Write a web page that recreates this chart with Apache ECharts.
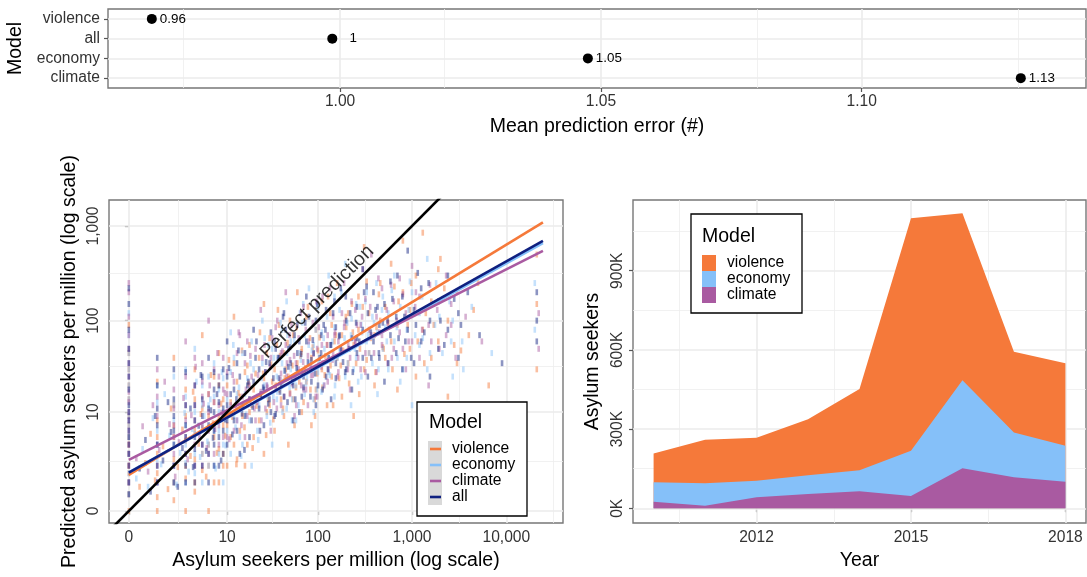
<!DOCTYPE html>
<html>
<head>
<meta charset="utf-8">
<script src="https://cdn.jsdelivr.net/npm/echarts@6/dist/echarts.min.js"></script>
<style>
  html, body { margin: 0; padding: 0; background: #fff; }
  #chart { width: 1087px; height: 577px; }
</style>
</head>
<body>
<div id="chart"></div>
<script>
// ---- Mean prediction error by model ----
const models = ['violence', 'all', 'economy', 'climate'];
const meanError = [0.9639, 0.9985, 1.0475, 1.1305];
const errorTicks = [1.00, 1.05, 1.10];

// ---- Observed vs predicted asylum seekers per million ([observed, predicted]) ----
const scatterTicks = [0, 10, 100, 1000, 10000];

const ptsViolence = [
  [0,0],[0,1],[0,2],[0,4],[0,7],[0,14],[0,30],[0,90],
  [1,0],[1,3],[1,8],[1,22],[2,1],[2,5],[2,12],[2,40],[3,0],[3,2],[3,9],[3,18],
  [4,1],[4,6],[4,30],[5,3],[5,11],[5,70],[6,0],[6,2],[6,16],[7,5],[7,25],
  [8,1],[8,9],[8,45],[9,3],[9,14],[10,2],[10,7],[10,20],[12,4],[12,35],[12,110],
  [14,6],[14,15],[16,2],[16,28],[18,10],[18,55],[20,5],[20,18],[23,8],[23,40],
  [26,3],[26,24],[26,150],[30,12],[30,65],[34,6],[34,30],[38,18],[38,90],
  [43,9],[43,45],[48,25],[48,4],[54,14],[54,70],[60,35],[60,200],[67,10],[67,50],
  [75,22],[75,110],[85,40],[85,7],[95,18],[95,80],[110,30],[110,160],[125,12],[125,55],
  [140,90],[140,25],[160,40],[160,250],[180,15],[180,70],[210,120],[210,35],
  [240,55],[240,9],[270,180],[270,80],[310,30],[310,600],[350,120],[350,45],
  [400,70],[400,20],[460,250],[460,100],[520,40],[520,140],[600,400],[600,60],
  [700,90],[700,18],[800,200],[800,700],[950,50],[950,130],[1100,300],[1100,25],
  [1300,80],[1300,850],[1600,160],[1600,40],[1900,60],[1900,350],[2400,100],[2400,15],
  [3000,200],[3000,35],[4000,70],[5000,250],[6500,20],[21000,150],[21000,500],[21000,30],
  [0,0.5],[0,1.5],[0,3],[0,5],[0,9],[0,20],[0,45],
  [1,0.4],[1,1.5],[1,5],[2,0.3],[2,2.5],[2,7],[3,1.2],[3,4.5],[4,0.6],[4,2.5],[4,14],[5,1.7],[5,6.5],
  [6,4],[6,9],[7,1],[7,13],[8,3.5],[8,20],[9,2],[9,7],[11,5],[11,13],[13,2.5],[13,22],[15,9],[17,4],[17,33],
  [19,12],[21,27],[24,15],[28,10],[28,45],[32,22],[36,55],[40,14],[45,30],[50,100],[58,19],[65,42],[72,28],[82,65],
  [92,14],[100,48],[118,26],[135,120],[150,60],[175,33],[200,85],[230,150],[280,50],[330,260],[420,85],[500,50],
  [650,230],[900,90],[1400,120],[2000,450],[2800,55],[4500,130],
  [0.3,0.8],[0.5,2.2],[0.7,5.5],[0.9,1.1],[1.3,3.8],[1.6,0.7],[1.8,11],[2.3,1.9],[2.7,6.2],[3.5,2.8],[3.8,17],
  [4.5,4.1],[4.8,9.5],[5.6,1.3],[6.4,26],[6.8,7.4],[7.6,3.1],[8.5,12.5],[9.5,5.2],[10.5,38],[11.5,8.8],[12.8,2.1],
  [13.5,16.5],[14.8,48],[15.8,6.6],[17.5,21],[19.5,3.6],[21.5,11.8],[23.5,75],[25.5,27],[27.5,5.3],[29,14],[31,34],
  [33,8.2],[35,20],[37,130],[39,42],[42,11],[44,24],[47,58],[50,16.5],[53,33],[56,7],[59,85],[63,22],[66,46],[70,13],
  [73,31],[78,140],[83,18],[88,52],[93,9],[98,27],[104,66],[112,19],[120,42],[128,180],[136,33],[145,12],[155,70],
  [168,24],[185,48],[198,110],[215,21],[235,75],[255,35],[275,16],[300,140],[330,38],[365,65],[410,28],[445,190],
  [490,52],[560,95],[620,30],[720,160],[830,44],[980,250],[1150,60],[1350,35],[1700,90],[2200,220],[3300,48]
];
const ptsEconomy = [
  [0,1],[0,3],[0,5],[0,9],[0,20],[0,45],[0,120],
  [1,1],[1,6],[1,13],[2,2],[2,8],[2,25],[3,1],[3,4],[3,15],[4,3],[4,10],[4,50],
  [5,1],[5,7],[5,20],[6,4],[6,12],[7,2],[7,35],[8,6],[8,18],[9,1],[9,10],
  [11,3],[11,28],[11,75],[13,8],[13,16],[15,4],[15,45],[17,12],[17,24],[19,2],[19,60],
  [22,15],[22,6],[25,35],[25,100],[28,9],[28,20],[32,50],[32,4],[36,25],[36,14],
  [41,80],[41,35],[46,11],[46,160],[51,30],[51,60],[58,20],[58,8],[64,45],[64,120],
  [72,16],[72,70],[80,35],[80,220],[90,10],[90,55],[100,28],[100,140],[115,65],[115,20],
  [130,300],[130,40],[150,15],[150,85],[170,50],[170,130],[195,25],[195,400],
  [225,70],[225,12],[255,150],[255,40],[290,90],[290,25],[330,200],[330,60],
  [380,35],[380,110],[430,16],[430,75],[490,180],[490,50],[560,120],[560,30],
  [650,60],[650,300],[750,22],[750,140],[880,80],[880,40],[1000,200],[1000,12],
  [1200,55],[1200,120],[1450,30],[1450,450],[1750,90],[2100,45],[2100,170],
  [2700,25],[2700,100],[3400,60],[4300,140],[7000,45],[20000,80],[20000,250],
  [0,0.5],[0,1.5],[0,7],[0,14],[0,30],[0,70],
  [1,2.5],[1,4],[1,20],[2,1],[2,4],[2,12],[3,2.2],[3,7],[3,30],[4,1.5],[4,5.5],[5,3],[5,12],[6,2],[6,25],
  [7,6],[7,15],[8,3],[8,10],[9,4],[9,24],[10,6],[10,14],[12,9],[12,40],[14,5],[16,16],[18,8],[20,30],[23,12],
  [26,20],[29,55],[33,15],[37,38],[42,22],[47,70],[53,14],[60,30],[68,95],[76,24],[86,48],[97,18],[110,75],
  [130,28],[150,180],[175,45],[205,95],[240,30],[280,140],[340,70],[420,250],[520,85],[700,40],[950,260],
  [1300,65],[1800,250],[2500,160],[3500,30],
  [0.2,1.2],[0.4,3.5],[0.6,0.8],[0.8,8.5],[1.2,2.1],[1.4,16],[1.7,5.2],[2.2,0.9],[2.5,3.1],[2.9,9.8],[3.3,1.6],
  [3.7,6.3],[4.2,22],[4.7,2.7],[5.3,9],[5.8,4.4],[6.3,14],[7.3,1.8],[7.8,7.7],[8.7,28],[9.6,3.9],[10.8,11],
  [11.8,55],[12.5,6.6],[13.7,19],[14.5,2.8],[16.5,9.4],[18.5,35],[20.5,13],[22.5,4.6],[24.5,24],[26.5,65],
  [28.5,15],[30.5,7.5],[33.5,40],[36.5,17],[39.5,95],[41.5,10],[43.5,29],[46.5,45],[49.5,19],[52.5,8],[55.5,62],
  [58.5,26],[61.5,12],[65.5,38],[69.5,150],[74.5,21],[79.5,55],[84.5,30],[89.5,14],[94.5,80],[102,36],[109,17],
  [117,50],[125,110],[134,26],[143,60],[152,20],[162,40],[178,200],[192,65],[208,35],[228,105],[248,50],[268,22],
  [295,75],[320,160],[350,45],[395,95],[440,30],[480,130],[540,60],[610,210],[690,85],[800,30],[920,130],
  [1080,70],[1280,180],[1550,45],[1950,110],[2600,60]
];
const ptsClimate = [
  [0,2],[0,4],[0,6],[0,10],[0,17],[0,35],[0,70],[0,200],
  [1,2],[1,9],[1,30],[2,3],[2,7],[2,18],[3,5],[3,12],[3,60],[4,2],[4,8],[4,20],
  [5,4],[5,15],[5,35],[6,6],[6,10],[6,100],[7,3],[7,13],[8,7],[8,25],[9,5],[9,40],
  [10,9],[10,16],[12,6],[12,22],[14,11],[14,70],[16,5],[16,35],[18,14],[18,20],
  [21,8],[21,50],[24,17],[24,130],[27,11],[27,28],[31,40],[31,6],[35,19],[35,85],
  [40,27],[40,12],[45,55],[45,200],[50,16],[50,38],[56,24],[56,9],[62,65],[62,30],
  [70,18],[70,140],[78,42],[78,12],[88,26],[88,95],[98,50],[98,15],[112,35],[112,180],
  [127,70],[127,22],[145,45],[145,110],[165,28],[165,60],[190,85],[190,250],
  [220,40],[220,18],[250,130],[250,60],[285,30],[285,90],[320,170],[320,45],
  [370,70],[370,500],[420,110],[420,28],[480,55],[480,220],[550,35],[550,95],
  [640,160],[640,50],[740,280],[740,75],[860,30],[860,120],[1000,60],[1000,380],
  [1200,180],[1200,40],[1500,90],[1500,20],[1850,130],[2300,70],[2300,300],
  [2900,40],[3700,110],[5500,60],[22000,120],[22000,50],
  [0,1],[0,3],[0,8],[0,13],[0,25],[0,50],[0,110],[0,250],
  [1,1],[1,4],[1,15],[2,2],[2,5],[2,11],[3,3],[3,8],[3,25],[4,4],[4,12],[4,40],[5,2],[5,7],[5,22],[6,3],[6,16],
  [7,7],[7,30],[8,4],[8,12],[9,9],[9,18],[10,5],[10,28],[11,12],[13,8],[13,45],[15,15],[17,9],[17,60],[19,25],
  [22,13],[25,40],[28,20],[32,65],[36,11],[40,45],[46,25],[52,90],[58,35],[66,20],[74,80],[84,33],[96,160],
  [110,55],[128,30],[150,70],[180,120],[210,55],[260,90],[300,350],[360,140],[450,75],[600,240],[800,50],
  [1100,200],[1600,60],[2600,150],
  [0.2,2.6],[0.4,6.8],[0.6,1.6],[0.8,12],[1.1,3.4],[1.4,22],[1.7,7.2],[2.1,1.3],[2.4,4.3],[2.8,14.5],[3.2,2.5],
  [3.6,9.2],[4.1,32],[4.6,5.1],[5.2,12.5],[5.7,3.6],[6.2,20],[7.2,6.3],[7.7,45],[8.6,9.8],[9.4,16.5],[10.6,4.7],
  [11.6,26],[12.6,12],[13.6,75],[14.6,7],[16.4,18],[18.4,42],[20.4,11],[22.4,26],[24.4,8],[26.4,55],[28.4,19],
  [30.4,32],[33.4,13],[36.4,100],[39.4,23],[41.4,47],[43.4,15],[46.4,35],[49.4,70],[52.4,21],[55.4,42],[58.4,12],
  [61.4,28],[65.4,120],[69.4,36],[74.4,18],[79.4,60],[84.4,26],[89.4,44],[94.4,15],[102,85],[109,32],[117,20],
  [125,55],[134,220],[143,38],[152,75],[162,25],[178,48],[192,95],[208,30],[228,160],[248,60],[268,40],[295,110],
  [320,28],[350,80],[395,45],[440,280],[480,70],[540,130],[610,40],[690,100],[800,190],[920,60],[1080,140],
  [1280,80],[1550,240],[1950,50],[2600,90]
];
const ptsAll = [
  [0,1],[0,2],[0,3],[0,5],[0,8],[0,12],[0,25],[0,50],[0,150],
  [1,1],[1,4],[1,11],[1,40],[2,2],[2,6],[2,14],[3,1],[3,3],[3,7],[3,28],
  [4,2],[4,5],[4,12],[5,2],[5,9],[5,25],[6,1],[6,7],[6,40],[7,4],[7,10],[7,18],
  [8,2],[8,13],[9,6],[9,30],[10,4],[10,12],[10,60],[12,8],[12,18],[14,3],[14,25],
  [16,9],[16,45],[18,5],[18,14],[20,22],[20,80],[23,11],[23,30],[26,7],[26,18],
  [30,35],[30,14],[34,60],[34,9],[38,24],[38,40],[43,15],[43,120],[48,32],[48,50],
  [54,20],[54,8],[60,45],[60,90],[67,28],[67,15],[75,60],[75,180],[85,22],[85,38],
  [95,100],[95,12],[108,45],[108,70],[122,25],[122,130],[138,55],[138,14],
  [155,85],[155,35],[175,220],[175,50],[200,30],[200,100],[230,65],[230,18],
  [260,140],[260,45],[300,80],[300,350],[340,25],[340,120],[390,60],[390,200],
  [450,40],[450,90],[510,150],[510,22],[590,70],[590,260],[680,45],[680,110],
  [790,30],[790,180],[900,80],[900,550],[1050,130],[1050,35],[1250,60],[1250,220],
  [1550,100],[1550,25],[1900,160],[1900,50],[2400,80],[2400,300],[3100,40],[3100,120],
  [3900,200],[5200,70],[9000,35],[21000,100],[21000,200],[21000,60],
  [0,0.5],[0,4],[0,6],[0,10],[0,18],[0,35],[0,80],[0,220],
  [1,2],[1,7],[1,20],[2,1],[2,4],[2,9],[2,30],[3,2],[3,5],[3,12],[4,1],[4,3.5],[4,8],[4,20],[5,4],[5,14],
  [6,3],[6,11],[7,2],[7,6],[7,28],[8,5],[8,20],[9,3],[9,11],[10,8],[10,25],[11,16],[13,6],[13,35],[15,12],
  [17,20],[19,8],[21,40],[24,16],[27,28],[31,10],[35,50],[40,20],[45,80],[51,35],[57,14],[63,60],[70,25],[80,110],
  [90,45],[100,20],[115,90],[130,40],[150,160],[170,70],[195,28],[220,120],[260,65],[310,200],[370,40],[430,140],
  [550,100],[700,300],[850,60],[1100,90],[1500,250],[2000,100],[2800,170],
  [0.3,1.8],[0.5,4.6],[0.7,0.6],[0.9,9],[1.3,2.4],[1.6,13],[1.8,5.8],[2.3,0.8],[2.7,3.6],[3.5,11],[3.8,1.9],
  [4.5,6.9],[4.8,26],[5.6,3.3],[6.4,10.5],[6.8,4.9],[7.6,16],[8.5,2.4],[9.5,8.2],[10.5,31],[11.5,5.4],[12.8,14],
  [13.5,48],[14.8,9.6],[15.8,3.4],[17.5,22],[19.5,11.5],[21.5,60],[23.5,6],[25.5,19],[27.5,36],[29,12.5],[31,75],
  [33,24],[35,9.5],[37,40],[39,17],[42,110],[44,29],[47,13],[50,52],[53,22],[56,70],[59,31],[63,10],[66,44],[70,19],
  [73,95],[78,36],[83,15],[88,62],[93,27],[98,150],[104,40],[112,18],[120,80],[128,30],[136,55],[145,120],[155,24],
  [168,68],[185,36],[198,180],[215,50],[235,28],[255,95],[275,60],[300,40],[330,230],[365,75],[410,130],[445,45],
  [490,95],[560,35],[620,170],[720,65],[830,110],[980,40],[1150,320],[1350,75],[1700,150],[2200,55],[3300,90]
];

// Fitted lines, endpoints as [observed, predicted]
const fitViolence = [[0, 1.40], [24400, 1090]];
const fitEconomy  = [[0, 1.55], [24400, 660]];
const fitClimate  = [[0, 2.46], [24400, 547]];
const fitAll      = [[0, 1.53], [24400, 697]];
const perfectLine = [[-0.5, -0.5], [40000, 40000]];

// ---- Asylum seekers per year, stacked by model ----
const years = [2010, 2011, 2012, 2013, 2014, 2015, 2016, 2017, 2018];
const areaClimate  = [25000, 10000, 42000, 54000, 65000, 47000, 152000, 118000, 101000];
const areaEconomy  = [74000, 85000, 62000, 71000, 79000, 171000, 333000, 169000, 136000];
const areaViolence = [109000, 165000, 163000, 212000, 308000, 881000, 633000, 306000, 312000];
const yearTicks = [2012, 2015, 2018];
const seekerTicks = [0, 300000, 600000, 900000];

// ---- styling ----
const FONT = '"Liberation Sans", Arial, Helvetica, sans-serif';
const COL = { violence: '#F5793A', economy: '#85C0F9', climate: '#A95AA1', all: '#0F2080' };
const TICK_FS = 15.6, TITLE_FS = 19.5;
const GRID_MAJOR = { color: '#ebebeb', width: 1.6, type: 'solid' };
const GRID_MINOR = { color: '#eeeeee', width: 0.8, type: 'solid' };
const tr = v => Math.log10(v + 1);

function midpoints(arr, extraHi) {
  const out = [];
  for (let i = 0; i < arr.length - 1; i++) out.push((arr[i] + arr[i + 1]) / 2);
  if (extraHi) out.push(arr[arr.length - 1] + (arr[arr.length - 1] - arr[arr.length - 2]) / 2);
  return out;
}

function gridLines(xi, xMajor, xMinor, yMajor, yMinor) {
  const d = [];
  xMinor.forEach(v => d.push({ xAxis: v, lineStyle: GRID_MINOR }));
  yMinor.forEach(v => d.push({ yAxis: v, lineStyle: GRID_MINOR }));
  xMajor.forEach(v => d.push({ xAxis: v, lineStyle: GRID_MAJOR }));
  yMajor.forEach(v => d.push({ yAxis: v, lineStyle: GRID_MAJOR }));
  return {
    type: 'line', xAxisIndex: xi, yAxisIndex: xi, data: [], z: 1, silent: true,
    markLine: { z: 1, silent: true, symbol: ['none', 'none'], label: { show: false },
      emphasis: { disabled: true }, animation: false, data: d }
  };
}

const tickStyle = { show: true, length: 4, lineStyle: { color: '#555', width: 1.2 } };
const labelBase = { color: '#333', fontSize: TICK_FS, fontFamily: FONT };
const nameBase = { color: '#000', fontSize: TITLE_FS, fontFamily: FONT };
const gridBase = { show: true, borderColor: '#777', borderWidth: 1.4, backgroundColor: 'transparent',
  containLabel: false, outerBoundsMode: 'none' };

const sTicksT = scatterTicks.map(tr);
const sMinorX = midpoints(sTicksT, true);
const sMinorY = midpoints(sTicksT, false).filter(v => v < 3.27);

// cumulative tops of the stacked areas
const cumClimate = areaClimate.slice();
const cumEconomy = areaEconomy.map((v, i) => v + cumClimate[i]);
const cumViolence = areaViolence.map((v, i) => v + cumEconomy[i]);

function pointSeries(name, pts) {
  return {
    name, type: 'scatter', xAxisIndex: 1, yAxisIndex: 1, z: 2, silent: true,
    symbol: 'rect', symbolSize: [2.6, 6],
    itemStyle: { color: COL[name], opacity: 0.48 },
    data: pts.map(p => [tr(p[0]), tr(p[1])])
  };
}
function fitSeries(name, pts, color, width) {
  return {
    name, type: 'line', xAxisIndex: 1, yAxisIndex: 1, z: 3, silent: true, clip: true,
    symbol: 'none', lineStyle: { color, width },
    data: pts.map(p => [tr(p[0]), tr(p[1])])
  };
}
function areaSeries(name, tops) {
  return {
    name, type: 'line', xAxisIndex: 2, yAxisIndex: 2, z: 2, silent: true,
    symbol: 'none', lineStyle: { width: 0 },
    areaStyle: { color: COL[name], opacity: 1, origin: 0 },
    data: years.map((y, i) => [y, tops[i]])
  };
}

const chart = echarts.init(document.getElementById('chart'), null, { renderer: 'canvas' });

const option = {
  animation: false,
  backgroundColor: '#fff',
  textStyle: { fontFamily: FONT },
  grid: [
    Object.assign({ left: 108, top: 9, width: 978, height: 79 }, gridBase),
    Object.assign({ left: 109, top: 200, width: 454, height: 323 }, gridBase),
    Object.assign({ left: 633, top: 200, width: 453, height: 323 }, gridBase)
  ],
  xAxis: [
    {
      gridIndex: 0, type: 'value', min: 0.9555, max: 1.143,
      axisLine: { show: false }, splitLine: { show: false },
      axisTick: Object.assign({ customValues: errorTicks }, tickStyle),
      axisLabel: Object.assign({ customValues: errorTicks, margin: 6, formatter: v => v.toFixed(2) }, labelBase),
      name: 'Mean prediction error (#)', nameLocation: 'middle', nameGap: 29, nameTextStyle: nameBase
    },
    {
      gridIndex: 1, type: 'value', min: -0.21, max: 4.6,
      axisLine: { show: false }, splitLine: { show: false },
      axisTick: Object.assign({ customValues: sTicksT }, tickStyle),
      axisLabel: Object.assign({ customValues: sTicksT, margin: 7,
        formatter: v => Math.round(Math.pow(10, v) - 1).toLocaleString('en-US') }, labelBase),
      name: 'Asylum seekers per million (log scale)', nameLocation: 'middle', nameGap: 27, nameTextStyle: nameBase
    },
    {
      gridIndex: 2, type: 'value', min: 2009.6, max: 2018.4,
      axisLine: { show: false }, splitLine: { show: false },
      axisTick: Object.assign({ customValues: yearTicks }, tickStyle),
      axisLabel: Object.assign({ customValues: yearTicks, margin: 7, formatter: v => String(v) }, labelBase),
      name: 'Year', nameLocation: 'middle', nameGap: 27, nameTextStyle: nameBase
    }
  ],
  yAxis: [
    {
      gridIndex: 0, type: 'category', data: models, inverse: true,
      axisLine: { show: false }, splitLine: { show: false },
      axisTick: Object.assign({ alignWithLabel: true, interval: 0 }, tickStyle),
      axisLabel: Object.assign({ margin: 8, interval: 0 }, labelBase),
      name: 'Model', nameLocation: 'middle', nameGap: 71, nameRotate: 90, nameTextStyle: nameBase
    },
    {
      gridIndex: 1, type: 'value', min: -0.126, max: 3.274,
      axisLine: { show: false }, splitLine: { show: false },
      axisTick: Object.assign({ customValues: sTicksT }, tickStyle),
      axisLabel: Object.assign({ customValues: sTicksT, margin: 7, rotate: 90,
        formatter: v => Math.round(Math.pow(10, v) - 1).toLocaleString('en-US') }, labelBase),
      name: 'Predicted asylum seekers per million (log scale)', nameLocation: 'middle', nameGap: 29,
      nameRotate: 90, nameTextStyle: nameBase
    },
    {
      gridIndex: 2, type: 'value', min: -55700, max: 1167800,
      axisLine: { show: false }, splitLine: { show: false },
      axisTick: Object.assign({ customValues: seekerTicks }, tickStyle),
      axisLabel: Object.assign({ customValues: seekerTicks, margin: 7, rotate: 90,
        formatter: v => Math.round(v / 1000) + 'K' }, labelBase),
      name: 'Asylum seekers', nameLocation: 'middle', nameGap: 30, nameRotate: 90, nameTextStyle: nameBase
    }
  ],
  series: [
    // gridlines
    gridLines(0, errorTicks, midpoints(errorTicks, true).concat([0.975]), models, []),
    gridLines(1, sTicksT, sMinorX, sTicksT, sMinorY),
    gridLines(2, yearTicks, [2010.5, 2013.5, 2016.5], seekerTicks, [150000, 450000, 750000, 1050000]),

    // mean error dots
    {
      type: 'scatter', xAxisIndex: 0, yAxisIndex: 0, z: 3, silent: true,
      symbol: 'circle', symbolSize: 10, itemStyle: { color: '#000', opacity: 1 },
      label: { show: true, position: 'inside', offset: [21, 0], color: '#000', fontSize: 13.4,
        fontFamily: FONT, formatter: p => String(Number(p.value[0].toFixed(2))) },
      data: models.map((m, i) => [meanError[i], m])
    },

    // observed vs predicted points
    pointSeries('violence', ptsViolence),
    pointSeries('economy', ptsEconomy),
    pointSeries('climate', ptsClimate),
    pointSeries('all', ptsAll),

    // fitted lines and the identity line
    fitSeries('violence', fitViolence, COL.violence, 2.6),
    fitSeries('economy', fitEconomy, COL.economy, 2.6),
    fitSeries('climate', fitClimate, COL.climate, 2.6),
    fitSeries('all', fitAll, COL.all, 2.6),
    fitSeries('perfect', perfectLine, '#000', 2.6),
    {
      type: 'scatter', xAxisIndex: 1, yAxisIndex: 1, z: 4, silent: true,
      symbolSize: 0,
      label: { show: true, position: 'inside', rotate: 45, formatter: 'Perfect prediction',
        color: '#000', fontSize: TITLE_FS, fontFamily: FONT },
      data: [[tr(98), tr(158)]]
    },

    // stacked areas, drawn from the total down
    areaSeries('violence', cumViolence),
    areaSeries('economy', cumEconomy),
    areaSeries('climate', cumClimate)
  ],
  graphic: [
    // legend for the fitted lines
    { type: 'rect', shape: { x: 417, y: 402, width: 110, height: 114 },
      style: { fill: '#fff', stroke: '#000', lineWidth: 1.3 }, z: 10 },
    { type: 'text', x: 429, y: 423, z: 11,
      style: { text: 'Model', fontSize: TITLE_FS, fontFamily: FONT, fill: '#000', verticalAlign: 'middle' } },
    { type: 'rect', shape: { x: 428, y: 441, width: 14, height: 64 }, style: { fill: '#d9d9d9' }, z: 11 },
    ...['violence', 'economy', 'climate', 'all'].flatMap((m, i) => [
      { type: 'line', z: 12, shape: { x1: 430, y1: 449 + 16 * i, x2: 441, y2: 449 + 16 * i },
        style: { stroke: COL[m], lineWidth: 2.6 } },
      { type: 'text', x: 452, y: 449 + 16 * i, z: 12,
        style: { text: m, fontSize: TICK_FS, fontFamily: FONT, fill: '#000', verticalAlign: 'middle' } }
    ]),
    // legend for the stacked areas
    { type: 'rect', shape: { x: 691, y: 214, width: 111, height: 99 },
      style: { fill: '#fff', stroke: '#000', lineWidth: 1.3 }, z: 10 },
    { type: 'text', x: 702, y: 237, z: 11,
      style: { text: 'Model', fontSize: TITLE_FS, fontFamily: FONT, fill: '#000', verticalAlign: 'middle' } },
    ...['violence', 'economy', 'climate'].flatMap((m, i) => [
      { type: 'rect', z: 11, shape: { x: 702, y: 255 + 16 * i, width: 14, height: 16 }, style: { fill: COL[m] } },
      { type: 'text', x: 727, y: 263 + 16 * i, z: 12,
        style: { text: m, fontSize: TICK_FS, fontFamily: FONT, fill: '#000', verticalAlign: 'middle' } }
    ])
  ]
};

chart.setOption(option);
</script>
</body>
</html>
